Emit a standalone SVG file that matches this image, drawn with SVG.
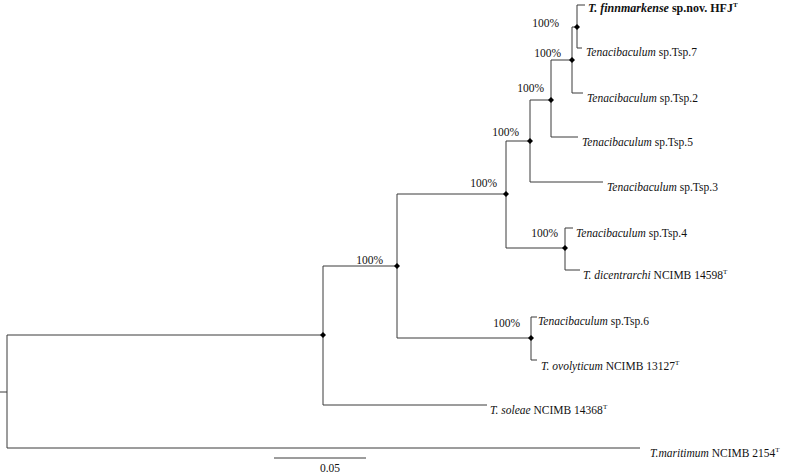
<svg xmlns="http://www.w3.org/2000/svg" width="785" height="476" viewBox="0 0 785 476">
<style>
.br{fill:none;stroke:#3a3a3a;stroke-width:1}
.t{font-family:"Liberation Serif","Times New Roman",serif;font-size:11.5px;fill:#111}
.i{font-style:italic}
.b{font-weight:bold}
.sup{font-size:7px}
.bs{font-family:"Liberation Serif","Times New Roman",serif;font-size:11.5px;fill:#111;text-anchor:end}
</style>
<defs>
<path id="dm" d="M0,-3 L3,0 L0,3 L-3,0 Z" fill="#000"/>
</defs>
<rect width="785" height="476" fill="#fff"/>
<g id="connectors">
<path class="br" d="M0,392 H7 M7,335 V448 M7,335 H323 M7,448 H640"/>
<path class="br" d="M323,266 V405 M323,266 H397 M323,405 H487"/>
<path class="br" d="M397,194 V338 M397,194 H506 M397,338 H531"/>
<path class="br" d="M531,317 V360 M531,317 H537 M531,360 H537"/>
<path class="br" d="M506,141 V248 M506,141 H530 M506,248 H565"/>
<path class="br" d="M565,228 V270 M565,228 H573 M565,270 H580"/>
<path class="br" d="M530,100 V182 M530,100 H551 M530,182 H603"/>
<path class="br" d="M551,60 V137 M551,60 H572 M551,137 H578"/>
<path class="br" d="M572,27 V93 M572,27 H577 M572,93 H583"/>
<path class="br" d="M577,5 V48 M577,5 H585 M577,48 H582"/>
<path class="br" d="M274,458 H366"/>
</g>
<g id="n1"><use href="#dm" x="577" y="27"/><text class="bs" x="559" y="27">100%</text></g>
<g id="n2"><use href="#dm" x="572" y="60"/><text class="bs" x="561" y="57">100%</text></g>
<g id="n3"><use href="#dm" x="551" y="100"/><text class="bs" x="544" y="92">100%</text></g>
<g id="n4"><use href="#dm" x="530" y="141"/><text class="bs" x="519" y="136">100%</text></g>
<g id="n5"><use href="#dm" x="506" y="194"/><text class="bs" x="497" y="187">100%</text></g>
<g id="n6"><use href="#dm" x="397" y="266"/><text class="bs" x="383" y="264">100%</text></g>
<g id="n7"><use href="#dm" x="323" y="335"/></g>
<g id="n8"><use href="#dm" x="565" y="248"/><text class="bs" x="558" y="237">100%</text></g>
<g id="n9"><use href="#dm" x="531" y="338"/><text class="bs" x="520" y="327">100%</text></g>
<g id="leaf-hfj"><text class="t b" x="588" y="12" style="font-size:12px"><tspan class="i">T. finnmarkense</tspan> sp.nov. HFJ<tspan class="sup" dy="-5">T</tspan></text></g>
<g id="leaf-tsp7"><text class="t" x="586" y="56"><tspan class="i">Tenacibaculum</tspan> sp.Tsp.7</text></g>
<g id="leaf-tsp2"><text class="t" x="587" y="102"><tspan class="i">Tenacibaculum</tspan> sp.Tsp.2</text></g>
<g id="leaf-tsp5"><text class="t" x="582" y="146"><tspan class="i">Tenacibaculum</tspan> sp.Tsp.5</text></g>
<g id="leaf-tsp3"><text class="t" x="607" y="191"><tspan class="i">Tenacibaculum</tspan> sp.Tsp.3</text></g>
<g id="leaf-tsp4"><text class="t" x="576" y="237"><tspan class="i">Tenacibaculum</tspan> sp.Tsp.4</text></g>
<g id="leaf-dic"><text class="t" x="583" y="279"><tspan class="i">T. dicentrarchi</tspan> NCIMB 14598<tspan class="sup" dy="-5">T</tspan></text></g>
<g id="leaf-tsp6"><text class="t" x="538" y="325"><tspan class="i">Tenacibaculum</tspan> sp.Tsp.6</text></g>
<g id="leaf-ovo"><text class="t" x="541" y="370"><tspan class="i">T. ovolyticum</tspan> NCIMB 13127<tspan class="sup" dy="-5">T</tspan></text></g>
<g id="leaf-sol"><text class="t" x="490" y="414"><tspan class="i">T. soleae</tspan> NCIMB 14368<tspan class="sup" dy="-5">T</tspan></text></g>
<g id="leaf-mar"><text class="t" x="650" y="457"><tspan class="i">T.maritimum</tspan> NCIMB 2154<tspan class="sup" dy="-5">T</tspan></text></g>
<g id="scale"><text class="t" x="330" y="472" text-anchor="middle">0.05</text></g>
</svg>
